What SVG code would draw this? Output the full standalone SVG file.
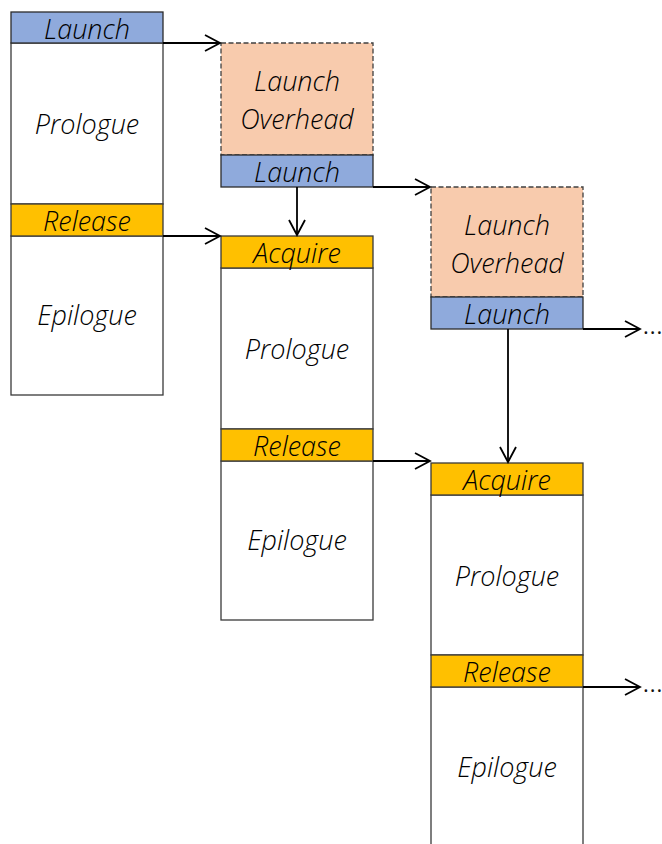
<svg xmlns="http://www.w3.org/2000/svg" width="662" height="844" viewBox="0 0 662 844">
  <defs>
    <marker id="arrow" markerWidth="18" markerHeight="18" refX="16" refY="9" orient="auto" markerUnits="userSpaceOnUse">
      <path d="M1,1 L16,9 L1,17" fill="none" stroke="#000" stroke-width="1.8"/>
    </marker>
    <style>
      .box { fill: #fff; stroke: #3a3a3a; stroke-width: 1.3; }
      .launch { fill: #8FAADC; stroke: #2b2b2b; stroke-width: 1.3; }
      .sync { fill: #FFC000; stroke: #3a3a3a; stroke-width: 1.3; }
      .overhead { fill: #F8CBAD; stroke: #404040; stroke-width: 1.3; stroke-dasharray: 5 2.5; }
      .lbl { font-family: "Open Sans", "Liberation Sans", sans-serif; font-style: italic; font-weight: 300; font-size: 27px; fill: #000; text-anchor: middle; }
      .conn { stroke: #000; stroke-width: 1.8; fill: none; }
      .dots { font-family: "Open Sans", "Liberation Sans", sans-serif; font-size: 22px; fill: #111; letter-spacing: 1px; }
    </style>
  </defs>

  <!-- first kernel -->
  <g id="kernel1">
    <rect class="box" x="11" y="43" width="152" height="161"/>
    <rect class="box" x="11" y="236" width="152" height="159"/>
    <rect class="launch" x="11" y="12" width="152" height="31"/>
    <rect class="sync" x="11" y="204" width="152" height="32"/>
    <text class="lbl" x="87" y="39">Launch</text>
    <text class="lbl" x="87" y="134">Prologue</text>
    <text class="lbl" x="87" y="231">Release</text>
    <text class="lbl" x="87" y="325">Epilogue</text>
  </g>

  <!-- second kernel -->
  <g id="overhead2">
    <rect class="overhead" x="221" y="43" width="152" height="112"/>
    <rect class="launch" x="221" y="155" width="152" height="32"/>
    <text class="lbl" x="297" y="91">Launch</text>
    <text class="lbl" x="297" y="129">Overhead</text>
    <text class="lbl" x="297" y="182">Launch</text>
  </g>
  <g id="kernel2">
    <rect class="box" x="221" y="268" width="152" height="161"/>
    <rect class="box" x="221" y="461" width="152" height="159"/>
    <rect class="sync" x="221" y="236" width="152" height="32"/>
    <rect class="sync" x="221" y="429" width="152" height="32"/>
    <text class="lbl" x="297" y="263">Acquire</text>
    <text class="lbl" x="297" y="359">Prologue</text>
    <text class="lbl" x="297" y="456">Release</text>
    <text class="lbl" x="297" y="550">Epilogue</text>
  </g>

  <!-- third kernel -->
  <g id="overhead3">
    <rect class="overhead" x="431" y="187" width="152" height="110"/>
    <rect class="launch" x="431" y="297" width="152" height="32"/>
    <text class="lbl" x="507" y="235">Launch</text>
    <text class="lbl" x="507" y="273">Overhead</text>
    <text class="lbl" x="507" y="324">Launch</text>
  </g>
  <g id="kernel3">
    <rect class="box" x="431" y="495" width="152" height="160"/>
    <rect class="box" x="431" y="687" width="152" height="170"/>
    <rect class="sync" x="431" y="463" width="152" height="32"/>
    <rect class="sync" x="431" y="655" width="152" height="32"/>
    <text class="lbl" x="507" y="490">Acquire</text>
    <text class="lbl" x="507" y="586">Prologue</text>
    <text class="lbl" x="507" y="682">Release</text>
    <text class="lbl" x="507" y="777">Epilogue</text>
  </g>

  <!-- connectors -->
  <g id="connectors">
    <path class="conn" d="M163,43 H220" marker-end="url(#arrow)"/>
    <path class="conn" d="M163,236 H220" marker-end="url(#arrow)"/>
    <path class="conn" d="M297,187 V235" marker-end="url(#arrow)"/>
    <path class="conn" d="M373,187 H430" marker-end="url(#arrow)"/>
    <path class="conn" d="M373,461 H430" marker-end="url(#arrow)"/>
    <path class="conn" d="M508,329 V462" marker-end="url(#arrow)"/>
    <path class="conn" d="M583,329 H640" marker-end="url(#arrow)"/>
    <path class="conn" d="M583,687 H640" marker-end="url(#arrow)"/>
    <text class="dots" x="643" y="334">...</text>
    <text class="dots" x="643" y="692">...</text>
  </g>
</svg>
